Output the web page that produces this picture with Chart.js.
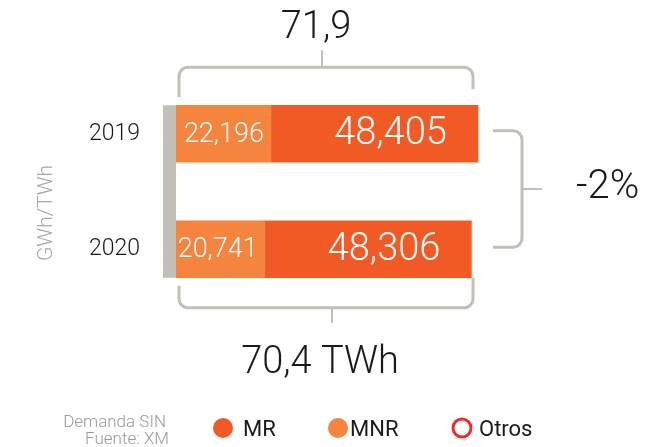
<!DOCTYPE html>
<html>
<head>
<meta charset="utf-8">
<script src="https://cdn.jsdelivr.net/npm/chart.js@4.4.0/dist/chart.umd.min.js"></script>
<style>
    body { margin: 0; background: #fff; }
</style>
</head>
<body>
<canvas id="demandaChart" width="652" height="447"></canvas>
<script>
const years = ['2019', '2020'];
const mnrValues = [22196, 20741];
const mrValues = [48405, 48306];
const totalLabels = ['71,9', '70,4 TWh'];
const changeLabel = '-2%';
const legendLabels = ['MR', 'MNR', 'Otros'];
const noteLines = ['Demanda SIN', 'Fuente: XM'];

const MR_COLOR = '#f15a24';
const MNR_COLOR = '#f5843e';
const OTROS_COLOR = '#e8302a';
const GRAY = '#c0c0b8';
const FONT = 'Roboto, "Liberation Sans", sans-serif';

function fmt(v) {
    return v.toLocaleString('en-US');
}

// polyline with rounded corners
function bracket(ctx, pts, r) {
    ctx.beginPath();
    ctx.moveTo(pts[0][0], pts[0][1]);
    for (let i = 1; i < pts.length - 1; i++) {
        ctx.arcTo(pts[i][0], pts[i][1], pts[i + 1][0], pts[i + 1][1], r);
    }
    ctx.lineTo(pts[pts.length - 1][0], pts[pts.length - 1][1]);
    ctx.stroke();
}

const decorPlugin = {
    id: 'decor',
    afterDatasetsDraw(chart) {
        const ctx = chart.ctx;
        const x = chart.scales.x;
        const mnrBars = chart.getDatasetMeta(0).data;
        const mrBars = chart.getDatasetMeta(1).data;
        const left = chart.chartArea.left;

        ctx.save();

        // gray strip at the start of the bars
        const top0 = mnrBars[0].y - mnrBars[0].height / 2;
        const bot1 = mnrBars[1].y + mnrBars[1].height / 2;
        ctx.fillStyle = GRAY;
        ctx.fillRect(left - 13, top0, 13, bot1 - top0);

        // values inside bars
        ctx.fillStyle = '#fff';
        ctx.textBaseline = 'middle';
        mnrBars.forEach((bar, i) => {
            ctx.font = '300 27px ' + FONT;
            ctx.textAlign = 'right';
            ctx.fillText(fmt(mnrValues[i]), bar.x - 7, bar.y + 1);
        });
        mrBars.forEach((bar, i) => {
            ctx.font = '300 38px ' + FONT;
            ctx.textAlign = 'center';
            ctx.fillText(fmt(mrValues[i]), (bar.x + bar.base) / 2 + 16, bar.y + 1);
        });

        // brackets
        const maxTotal = Math.max(mnrValues[0] + mrValues[0], mnrValues[1] + mrValues[1]);
        const xl = left + 3;
        const xr = x.getPixelForValue(maxTotal) - 5;
        ctx.strokeStyle = GRAY;
        ctx.lineWidth = 3;
        ctx.lineCap = 'butt';

        const yTop = top0 - 38;
        bracket(ctx, [[xl, top0 - 8], [xl, yTop], [xr, yTop], [xr, top0 - 16]], 9);
        const midTop = (xl + xr) / 2 - 4;
        ctx.lineWidth = 2;
        ctx.beginPath(); ctx.moveTo(midTop, yTop); ctx.lineTo(midTop, yTop - 17); ctx.stroke();

        ctx.lineWidth = 3;
        const yBot = bot1 + 30;
        bracket(ctx, [[xl, bot1 + 8], [xl, yBot], [xr, yBot], [xr, bot1]], 9);
        const midBot = (xl + xr) / 2 + 6;
        ctx.lineWidth = 2;
        ctx.beginPath(); ctx.moveTo(midBot, yBot); ctx.lineTo(midBot, yBot + 15); ctx.stroke();

        // right bracket between years
        ctx.lineWidth = 3;
        const rx0 = xr + 20;
        const rx1 = rx0 + 29;
        const ry0 = mrBars[0].y - 3;
        const ry1 = mrBars[1].y - 2;
        bracket(ctx, [[rx0, ry0], [rx1, ry0], [rx1, ry1], [rx0, ry1]], 9);
        ctx.lineWidth = 2;
        const rmid = (ry0 + ry1) / 2;
        ctx.beginPath(); ctx.moveTo(rx1, rmid); ctx.lineTo(rx1 + 20, rmid); ctx.stroke();

        // totals and change
        ctx.fillStyle = '#1a1a1a';
        ctx.font = '300 38px ' + FONT;
        ctx.textAlign = 'center';
        ctx.textBaseline = 'alphabetic';
        ctx.fillText(totalLabels[0], midTop - 6, 38);
        ctx.fillText(totalLabels[1], midBot - 12, 373);
        ctx.font = '300 40px ' + FONT;
        ctx.textAlign = 'left';
        ctx.fillText(changeLabel, 576, 198);

        // axis unit
        ctx.save();
        ctx.translate(52, 213);
        ctx.rotate(-Math.PI / 2);
        ctx.fillStyle = '#a8a8a8';
        ctx.font = '300 21px ' + FONT;
        ctx.textAlign = 'center';
        ctx.fillText('GWh/TWh', 0, 0);
        ctx.restore();

        // note
        ctx.fillStyle = '#9a9a9a';
        ctx.font = '300 17px ' + FONT;
        ctx.textAlign = 'right';
        ctx.fillText(noteLines[0], 166, 427);
        ctx.fillText(noteLines[1], 169, 444);

        // legend
        ctx.font = '400 22px ' + FONT;
        ctx.textAlign = 'left';
        ctx.fillStyle = MR_COLOR;
        ctx.beginPath(); ctx.arc(223, 428, 10, 0, Math.PI * 2); ctx.fill();
        ctx.fillStyle = MNR_COLOR;
        ctx.beginPath(); ctx.arc(338, 428, 10, 0, Math.PI * 2); ctx.fill();
        ctx.strokeStyle = OTROS_COLOR;
        ctx.lineWidth = 3;
        ctx.beginPath(); ctx.arc(462, 428, 9, 0, Math.PI * 2); ctx.stroke();
        ctx.fillStyle = '#1a1a1a';
        ctx.fillText(legendLabels[0], 243, 436);
        ctx.fillText(legendLabels[1], 350, 436);
        ctx.fillText(legendLabels[2], 479, 436);

        ctx.restore();
    }
};

new Chart(document.getElementById('demandaChart'), {
    type: 'bar',
    data: {
        labels: years,
        datasets: [{
            label: 'MNR',
            data: mnrValues,
            backgroundColor: MNR_COLOR,
            barThickness: 57
        }, {
            label: 'MR',
            data: mrValues,
            backgroundColor: MR_COLOR,
            barThickness: 57
        }]
    },
    options: {
        responsive: false,
        animation: false,
        indexAxis: 'y',
        layout: {
            padding: { left: 0, right: 168, top: 76, bottom: 140 }
        },
        plugins: {
            legend: { display: false },
            tooltip: { enabled: false }
        },
        scales: {
            x: {
                stacked: true,
                display: false,
                min: 0,
                max: 72000
            },
            y: {
                stacked: true,
                grid: { display: false, drawTicks: false },
                border: { display: false },
                ticks: {
                    padding: 36,
                    color: '#1a1a1a',
                    font: { family: FONT, size: 23, weight: '300' }
                },
                afterFit: function(axis) {
                    axis.width = 176;
                }
            }
        }
    },
    plugins: [decorPlugin]
});
</script>
</body>
</html>
